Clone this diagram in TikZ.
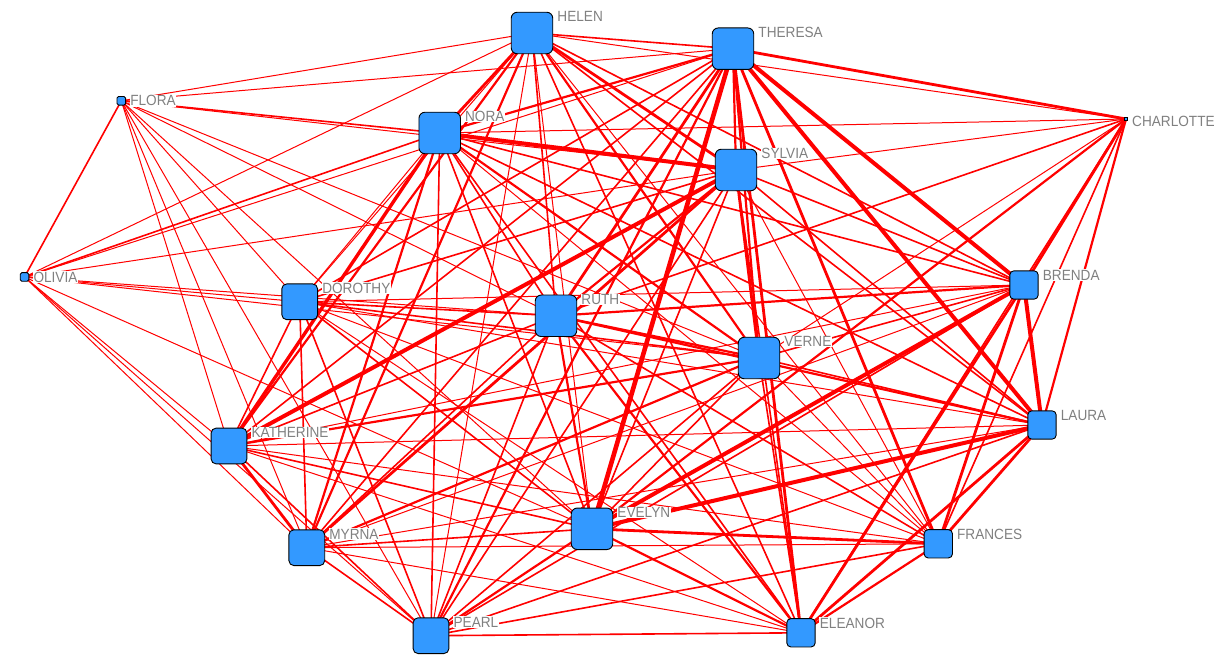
\documentclass[tikz,border=0pt]{standalone}
\usepackage{fontspec}
\setmainfont{Liberation Sans}
\newfontfamily\labfont{Liberation Sans}[FakeStretch=0.92]
\usetikzlibrary{calc}
\definecolor{nodeblue}{RGB}{51,153,255}
\definecolor{labgray}{RGB}{128,128,128}
\definecolor{edgered}{RGB}{255,0,0}
\pgfdeclarelayer{edgelayer}
\pgfsetlayers{edgelayer,main}
\begin{document}
\begin{tikzpicture}[x=1pt,y=-1pt,
  edge/.style={draw=edgered},
  w1/.style={edge,line width=1.0pt},
  w2/.style={edge,line width=1.6pt},
  w3/.style={edge,line width=2.2pt},
  w4/.style={edge,line width=2.8pt},
  w5/.style={edge,line width=3.4pt},
  w6/.style={edge,line width=4.0pt},
  w7/.style={edge,line width=4.6pt},
  person/.style={draw=black, fill=nodeblue, line width=0.9pt, inner sep=0pt, outer sep=0pt, rectangle},
  big/.style={person, minimum size=41.5pt, rounded corners=6pt},
  med/.style={person, minimum size=35.8pt, rounded corners=5pt},
  sml/.style={person, minimum size=28.3pt, rounded corners=4pt},
  tiny/.style={person, minimum size=8.6pt, rounded corners=1.5pt},
  dot/.style={person, minimum size=3pt},
  lab/.style={fill=white, text=labgray, inner xsep=0.5pt, inner ysep=0.6pt, font=\labfont\fontsize{14.8}{17}\selectfont, anchor=base west}
]
\useasboundingbox (0,0) rectangle (1224,660);

% nodes
\node[big]  (hel) at (532,33) {};
\node[big]  (the) at (733,48.7) {};
\node[big]  (nor) at (439.7,133) {};
\node[big]  (syl) at (736,170) {};
\node[dot]  (cha) at (1126,119) {};
\node[tiny] (flo) at (121.3,100.8) {};
\node[tiny] (oli) at (24.5,277) {};
\node[med]  (dor) at (299.7,301.8) {};
\node[big]  (rut) at (556,315.8) {};
\node[big]  (ver) at (759,358) {};
\node[sml]  (bre) at (1024,285) {};
\node[sml]  (lau) at (1042,425) {};
\node[med]  (kat) at (229,446) {};
\node[big]  (eve) at (592,528.8) {};
\node[med]  (myr) at (306.8,547.7) {};
\node[sml]  (fra) at (938.3,543.8) {};
\node[med]  (pea) at (431,635.7) {};
\node[sml]  (ele) at (801,632.8) {};

% edges (weight = shared events)
\begin{pgfonlayer}{edgelayer}
\foreach \a/\b/\w in {
 eve/lau/6, eve/the/7, eve/bre/6, eve/cha/3, eve/fra/4, eve/ele/3, eve/pea/3, eve/rut/3, eve/ver/2, eve/myr/2, eve/kat/2, eve/syl/2, eve/nor/2, eve/hel/1, eve/dor/2, eve/oli/1, eve/flo/1,
 lau/the/6, lau/bre/6, lau/cha/3, lau/fra/4, lau/ele/4, lau/pea/2, lau/rut/3, lau/ver/2, lau/myr/1, lau/kat/1, lau/syl/2, lau/nor/2, lau/hel/2, lau/dor/1,
 the/bre/6, the/cha/4, the/fra/4, the/ele/4, the/pea/3, the/rut/4, the/ver/3, the/myr/2, the/kat/2, the/syl/3, the/nor/3, the/hel/2, the/dor/2, the/oli/1, the/flo/1,
 bre/cha/4, bre/fra/4, bre/ele/4, bre/pea/2, bre/rut/3, bre/ver/2, bre/myr/1, bre/kat/1, bre/syl/2, bre/nor/2, bre/hel/2, bre/dor/1,
 cha/fra/2, cha/ele/2, cha/rut/2, cha/ver/1, cha/syl/1, cha/nor/1, cha/hel/1,
 fra/ele/3, fra/pea/2, fra/rut/2, fra/ver/1, fra/myr/1, fra/kat/1, fra/syl/1, fra/nor/1, fra/hel/1, fra/dor/1,
 ele/pea/2, ele/rut/3, ele/ver/2, ele/myr/1, ele/kat/1, ele/syl/2, ele/nor/2, ele/hel/2, ele/dor/1,
 pea/rut/2, pea/ver/2, pea/myr/2, pea/kat/2, pea/syl/2, pea/nor/2, pea/hel/1, pea/dor/2, pea/oli/1, pea/flo/1,
 rut/ver/3, rut/myr/2, rut/kat/2, rut/syl/3, rut/nor/2, rut/hel/2, rut/dor/2, rut/oli/1, rut/flo/1,
 ver/myr/3, ver/kat/3, ver/syl/4, ver/nor/3, ver/hel/3, ver/dor/2, ver/oli/1, ver/flo/1,
 myr/kat/4, myr/syl/4, myr/nor/3, myr/hel/3, myr/dor/2, myr/oli/1, myr/flo/1,
 kat/syl/6, kat/nor/5, kat/hel/3, kat/dor/2, kat/oli/1, kat/flo/1,
 syl/nor/6, syl/hel/4, syl/dor/2, syl/oli/1, syl/flo/1,
 nor/hel/4, nor/dor/1, nor/oli/2, nor/flo/2,
 hel/dor/1, hel/oli/1, hel/flo/1,
 dor/oli/1, dor/flo/1,
 oli/flo/2}
 \draw[w\w] (\a.center) -- (\b.center);
\end{pgfonlayer}

% labels
\node[lab] (helL) at ($(hel.north east)+(4,9.4)$) {HELEN};
\node[lab] (theL) at ($(the.north east)+(4,9.4)$) {THERESA};
\node[lab] (norL) at ($(nor.north east)+(4,9.4)$) {NORA};
\node[lab] (sylL) at ($(syl.north east)+(4,9.4)$) {SYLVIA};
\node[lab] (chaL) at ($(cha.north east)+(4,9.4)$) {CHARLOTTE};
\node[lab] (floL) at ($(flo.north east)+(4,9.4)$) {FLORA};
\node[lab] (oliL) at ($(oli.north east)+(4,9.4)$) {OLIVIA};
\node[lab] (dorL) at ($(dor.north east)+(4,9.4)$) {DOROTHY};
\node[lab] (rutL) at ($(rut.north east)+(4,9.4)$) {RUTH};
\node[lab] (verL) at ($(ver.north east)+(4,9.4)$) {VERNE};
\node[lab] (breL) at ($(bre.north east)+(4,9.4)$) {BRENDA};
\node[lab] (lauL) at ($(lau.north east)+(4,9.4)$) {LAURA};
\node[lab] (katL) at ($(kat.north east)+(4,9.4)$) {KATHERINE};
\node[lab] (eveL) at ($(eve.north east)+(4,9.4)$) {EVELYN};
\node[lab] (myrL) at ($(myr.north east)+(4,9.4)$) {MYRNA};
\node[lab] (fraL) at ($(fra.north east)+(4,9.4)$) {FRANCES};
\node[lab] (peaL) at ($(pea.north east)+(4,9.4)$) {PEARL};
\node[lab] (eleL) at ($(ele.north east)+(4,9.4)$) {ELEANOR};
\end{tikzpicture}
\end{document}
